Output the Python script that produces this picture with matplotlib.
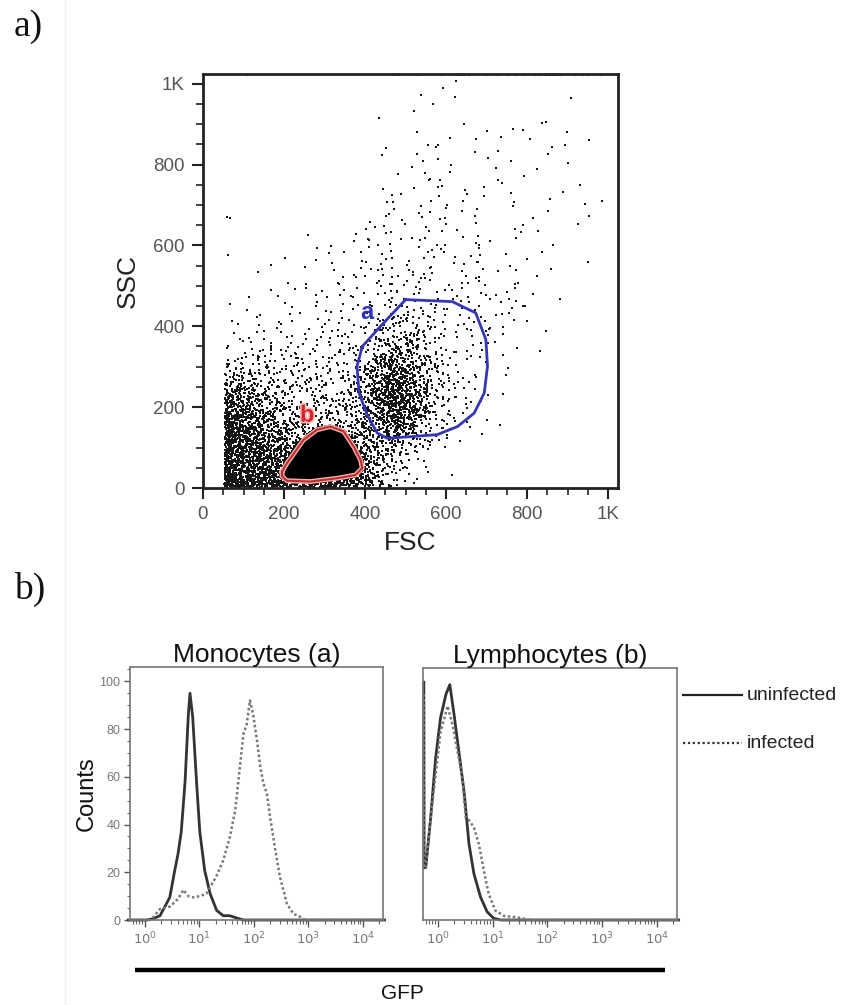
import numpy as np
import matplotlib
matplotlib.use("Agg")
import matplotlib.pyplot as plt
from matplotlib.lines import Line2D
from matplotlib.path import Path
from matplotlib.ticker import MultipleLocator, FixedLocator, NullFormatter, LogLocator, FixedFormatter
import matplotlib.patheffects as pe

plt.rcParams['font.family'] = ['Liberation Sans', 'DejaVu Sans']

# ---------------- DATA ----------------
# Scatter density: events per 50x50 cell (FSC columns 0..1000, SSC rows 0..1000, row 0 = bottom)
cell_size = 50
fsc_threshold = 53
ssc_fsc_counts = [
    [0, 220, 160, 150, 150, 150, 150, 120, 45, 12, 3, 1, 0, 0, 0, 0, 0, 0, 0, 0],
    [0, 190, 140, 120, 110, 150, 150, 100, 50, 25, 6, 2, 1, 0, 0, 0, 0, 0, 0, 0],
    [0, 180, 120, 85, 55, 60, 55, 55, 55, 60, 25, 8, 2, 1, 0, 0, 0, 0, 0, 0],
    [0, 150, 90, 50, 30, 28, 28, 32, 75, 140, 70, 16, 6, 3, 1, 0, 0, 0, 0, 0],
    [0, 90, 60, 32, 22, 20, 20, 26, 90, 170, 85, 22, 7, 4, 1, 0, 0, 0, 0, 0],
    [0, 30, 28, 20, 15, 14, 14, 18, 65, 130, 60, 18, 7, 3, 1, 0, 0, 0, 0, 0],
    [0, 7, 13, 11, 9, 9, 10, 12, 32, 60, 40, 14, 6, 4, 3, 1, 0, 0, 0, 0],
    [0, 2, 5, 5, 6, 6, 7, 9, 16, 32, 24, 10, 5, 4, 3, 2, 1, 0, 0, 0],
    [0, 1, 2, 3, 3, 4, 5, 6, 9, 15, 14, 7, 5, 6, 5, 4, 1, 0, 0, 0],
    [0, 1, 1, 2, 2, 3, 4, 5, 6, 8, 7, 6, 5, 6, 5, 3, 1, 1, 0, 0],
    [0, 0, 1, 1, 1, 2, 3, 4, 6, 6, 6, 5, 5, 4, 3, 2, 1, 1, 1, 0],
    [0, 1, 0, 0, 1, 1, 2, 4, 5, 5, 5, 4, 3, 3, 2, 2, 1, 1, 0, 0],
    [0, 1, 0, 0, 1, 0, 1, 2, 3, 4, 4, 4, 3, 2, 2, 1, 1, 0, 1, 0],
    [0, 1, 0, 0, 0, 0, 0, 1, 2, 3, 4, 3, 2, 3, 2, 2, 1, 1, 1, 1],
    [0, 0, 0, 0, 0, 0, 0, 0, 1, 2, 3, 3, 2, 2, 1, 2, 1, 0, 2, 1],
    [0, 0, 0, 0, 0, 0, 0, 0, 0, 1, 2, 3, 2, 2, 1, 1, 1, 0, 1, 0],
    [0, 0, 0, 0, 0, 0, 0, 0, 1, 1, 2, 2, 2, 1, 2, 1, 1, 1, 1, 0],
    [0, 0, 0, 0, 0, 0, 0, 0, 0, 0, 1, 1, 1, 2, 1, 1, 2, 1, 1, 0],
    [0, 0, 0, 0, 0, 0, 0, 0, 1, 0, 1, 1, 1, 0, 1, 0, 0, 1, 0, 0],
    [0, 0, 0, 0, 0, 0, 0, 0, 0, 0, 1, 1, 1, 0, 0, 0, 0, 0, 1, 0],
]
# events saturated at the SSC maximum (FSC positions)
top_edge_fsc = [108, 470, 480, 525, 533, 590, 624, 636, 644, 656, 698, 727, 752,
                772, 789, 818, 834, 847, 855, 863, 871, 884, 917, 938, 950, 983]
top_edge_ssc = 1021
# lymphocyte gate (b): events inside
lymph_gate_events = 3200

gate_a_fsc = [500, 615, 673, 698, 702, 694, 669, 628, 578, 512, 455, 430, 405, 385, 380, 393, 438, 500]
gate_a_ssc = [466, 461, 433, 367, 301, 235, 185, 152, 132, 127, 123, 136, 181, 235, 301, 350, 400, 466]
gate_b_fsc = [195, 207, 248, 281, 314, 347, 372, 389, 393, 376, 330, 265, 207, 195, 195]
gate_b_ssc = [40, 61, 119, 144, 152, 140, 102, 69, 49, 32, 24, 16, 18, 29, 40]

# Histograms (log10 GFP, counts)
mono_uninf_log = [-0.3, 0.03, 0.15, 0.28, 0.46, 0.55, 0.61, 0.67, 0.74, 0.80, 0.83, 0.88, 0.95,
                  1.01, 1.10, 1.20, 1.32, 1.44, 1.56, 1.69, 1.81, 4.4]
mono_uninf_cnt = [0, 0, 0.5, 1.8, 9.5, 20.7, 27.6, 37, 58, 86, 95, 85, 58,
                  37, 20.7, 11, 4, 1.8, 1.8, 0.8, 0, 0]
mono_inf_log = [-0.3, 0.10, 0.15, 0.28, 0.46, 0.61, 0.71, 0.80, 0.89, 1.01, 1.13, 1.20, 1.32,
                1.44, 1.56, 1.66, 1.75, 1.81, 1.87, 1.93, 1.99, 2.06, 2.12, 2.18, 2.24,
                2.30, 2.39, 2.48, 2.61, 2.73, 2.82, 2.91, 3.0, 4.4]
mono_inf_cnt = [0, 0, 1, 4.6, 5.6, 8.8, 12.6, 10, 9.5, 10, 11, 13.7, 18.6,
                25, 34.6, 46, 65, 78, 82, 92, 86, 75, 64, 57, 53,
                43, 30, 18, 6.7, 2.5, 1.8, 0.4, 0, 0]
lymph_uninf_log = [-0.255, -0.25, -0.22, -0.13, -0.04, 0.05, 0.15, 0.22, 0.30, 0.39, 0.48, 0.57,
                   0.66, 0.78, 0.90, 1.02, 1.15, 4.4]
lymph_uninf_cnt = [100, 22, 22, 43, 68, 85, 95, 99, 86, 70, 54, 32,
                   19.5, 9.7, 3.5, 0.7, 0, 0]
lymph_inf_log = [-0.255, -0.25, -0.22, -0.13, 0.05, 0.18, 0.27, 0.36, 0.45, 0.51, 0.57, 0.66,
                 0.75, 0.84, 0.93, 1.05, 1.21, 1.45, 1.69, 4.4]
lymph_inf_cnt = [95, 22, 22, 43, 79, 90, 82, 71, 60, 43, 42, 39,
                 32, 21, 11, 4, 1.7, 1.1, 0, 0]

scatter_xticks = [0, 200, 400, 600, 800, 1000]
scatter_xticklabels = ['0', '200', '400', '600', '800', '1K']
scatter_yticks = [0, 200, 400, 600, 800, 1000]
scatter_yticklabels = ['0', '200', '400', '600', '800', '1K']
hist_yticks = [0, 20, 40, 60, 80, 100]
hist_decades = [0, 1, 2, 3, 4]

# ---------------- FIGURE ----------------
W, H = 841, 1005
fig = plt.figure(figsize=(W / 100, H / 100), dpi=100)
fig.patch.set_facecolor('white')

def rect(l, t, r, b):
    return [l / W, 1 - b / H, (r - l) / W, (b - t) / H]

def fx(p):
    return p / W

def fy(p):
    return 1 - p / H

def halton(idx, base):
    idx = np.asarray(idx, dtype=np.int64) + 1
    out = np.zeros(idx.shape, dtype=float)
    f = 1.0 / base
    i = idx.copy()
    while np.any(i > 0):
        out += f * (i % base)
        i //= base
        f /= base
    return out

# faint edge of pasted image
fig.add_artist(Line2D([fx(65), fx(65)], [0, 1], color='#f2f2f2', lw=1))

# ---- scatter ----
ax = fig.add_axes(rect(203, 74, 618, 488))
xs, ys = [], []
counter = 0
for r, row in enumerate(ssc_fsc_counts):
    for c, n in enumerate(row):
        if n <= 0:
            continue
        idx = np.arange(counter, counter + n)
        counter += n
        dx = halton(idx, 2) + halton(idx, 3) - 1.0
        dy = halton(idx, 5) + halton(idx, 7) - 1.0
        xs.append((c + 0.5 + dx) * cell_size)
        ys.append((r + 0.5 + dy) * cell_size)
xs = np.concatenate(xs)
ys = np.concatenate(ys)
xs = np.where(xs < fsc_threshold, 2 * fsc_threshold - xs, xs)
ys = np.abs(ys) + 2

# lymphocyte gate fill
gb = Path(np.column_stack([gate_b_fsc, gate_b_ssc]))
bx0, bx1 = min(gate_b_fsc), max(gate_b_fsc)
by0, by1 = min(gate_b_ssc), max(gate_b_ssc)
idx = np.arange(lymph_gate_events * 2)
cand = np.column_stack([bx0 + halton(idx, 2) * (bx1 - bx0),
                        by0 + halton(idx, 3) * (by1 - by0)])
inside = gb.contains_points(cand, radius=-4)
cand = cand[inside][:lymph_gate_events]

ax.scatter(xs, ys, s=2.8, c='#151515', marker='s', linewidths=0)
ax.scatter(cand[:, 0], cand[:, 1], s=6, c='#000000', marker='s', linewidths=0)
ax.scatter(top_edge_fsc, [top_edge_ssc] * len(top_edge_fsc), s=2.8, c='#222222', marker='s', linewidths=0)

ax.plot(gate_b_fsc, gate_b_ssc, color='#eeb0b0', lw=3.5, solid_joinstyle='round')
ax.plot(gate_b_fsc, gate_b_ssc, color='#c42a2a', lw=1.5, solid_joinstyle='round')
ax.plot(gate_a_fsc, gate_a_ssc, color='#3535b8', lw=2.0, solid_joinstyle='round')
ax.text(405, 433, 'a', color='#3030c0', fontsize=17, fontweight='bold', ha='center', va='center')
ax.text(257, 180, 'b', color='#dd2020', fontsize=17, fontweight='bold', ha='center', va='center',
        path_effects=[pe.withStroke(linewidth=2.5, foreground='#f6c0c0')])

ax.set_xlim(0, 1024)
ax.set_ylim(0, 1024)
ax.set_xticks(scatter_xticks)
ax.set_xticklabels(scatter_xticklabels)
ax.set_yticks(scatter_yticks)
ax.set_yticklabels(scatter_yticklabels)
ax.xaxis.set_minor_locator(MultipleLocator(50))
ax.yaxis.set_minor_locator(MultipleLocator(50))
ax.tick_params(which='major', direction='out', length=8, width=1.5, color='#222222',
               labelsize=13.5, labelcolor='#555555', pad=5)
ax.tick_params(which='minor', direction='out', length=5, width=1.2, color='#222222')
for s in ax.spines.values():
    s.set_linewidth(2)
    s.set_color('#222222')
ax.set_xlabel('FSC', fontsize=19, color='#222222', labelpad=6)
ax.set_ylabel('SSC', fontsize=19, color='#222222', labelpad=10)

# ---- histograms ----
def style_hist(axh, show_y):
    axh.set_xscale('log')
    axh.set_xlim(10 ** -0.27, 10 ** 4.37)
    axh.set_ylim(0, 106)
    axh.xaxis.set_major_locator(FixedLocator([10.0 ** d for d in hist_decades]))
    axh.xaxis.set_major_formatter(FixedFormatter(['$10^{%d}$' % d for d in hist_decades]))
    axh.xaxis.set_minor_locator(LogLocator(base=10, subs=np.arange(2, 10)))
    axh.xaxis.set_minor_formatter(NullFormatter())
    axh.tick_params(axis='x', which='major', direction='out', length=5, width=1.0, color='#555555',
                    labelsize=9.5, labelcolor='#777777', pad=3)
    axh.tick_params(axis='x', which='minor', direction='out', length=3, width=0.8, color='#666666')
    if show_y:
        axh.set_yticks(hist_yticks)
        axh.yaxis.set_minor_locator(MultipleLocator(5))
        axh.tick_params(axis='y', which='major', direction='out', length=4, width=1.0, color='#555555',
                        labelsize=9, labelcolor='#777777', pad=3)
        axh.tick_params(axis='y', which='minor', direction='out', length=2.5, width=0.8, color='#666666')
    else:
        axh.set_yticks([])
    for s in axh.spines.values():
        s.set_linewidth(1.2)
        s.set_color('#777777')

axm = fig.add_axes(rect(130, 667, 383, 920))
axm.plot(10 ** np.array(mono_uninf_log), mono_uninf_cnt, color='#333333', lw=2.0, clip_on=False)
axm.plot(10 ** np.array(mono_inf_log), mono_inf_cnt, color='#777777', lw=1.8, ls=(0, (1, 1)), clip_on=False)
style_hist(axm, True)
axm.set_title('Monocytes (a)', fontsize=19, color='#111111', pad=3)
axm.set_ylabel('Counts', fontsize=17, color='#111111', labelpad=1)

axl = fig.add_axes(rect(423, 668, 677, 920))
axl.plot(10 ** np.array(lymph_uninf_log), lymph_uninf_cnt, color='#333333', lw=2.0, clip_on=False)
axl.plot(10 ** np.array(lymph_inf_log), lymph_inf_cnt, color='#777777', lw=1.8, ls=(0, (1, 1)), clip_on=False)
style_hist(axl, False)
axl.set_title('Lymphocytes (b)', fontsize=19, color='#111111', pad=3)

# legend
fig.add_artist(Line2D([fx(683), fx(742)], [fy(695), fy(695)], color='#222222', lw=1.6))
fig.add_artist(Line2D([fx(683), fx(742)], [fy(743), fy(743)], color='#333333', lw=1.6, ls=(0, (1, 1.2))))
fig.text(fx(747), fy(695), 'uninfected', fontsize=14, color='#222222', va='center', ha='left')
fig.text(fx(747), fy(743), 'infected', fontsize=14, color='#222222', va='center', ha='left')

# GFP bar
fig.add_artist(Line2D([fx(135), fx(665)], [fy(970), fy(970)], color='#000000', lw=3.2, solid_capstyle='butt'))
fig.text(fx(402), fy(993), 'GFP', fontsize=15, color='#111111', ha='center', va='center')

# panel labels
fig.text(fx(14), fy(36), 'a)', fontsize=27, family='Liberation Serif', color='#111111', va='baseline')
fig.text(fx(14), fy(599), 'b)', fontsize=27, family='Liberation Serif', color='#111111', va='baseline')

fig.savefig('out.png', dpi=100, facecolor='white')
